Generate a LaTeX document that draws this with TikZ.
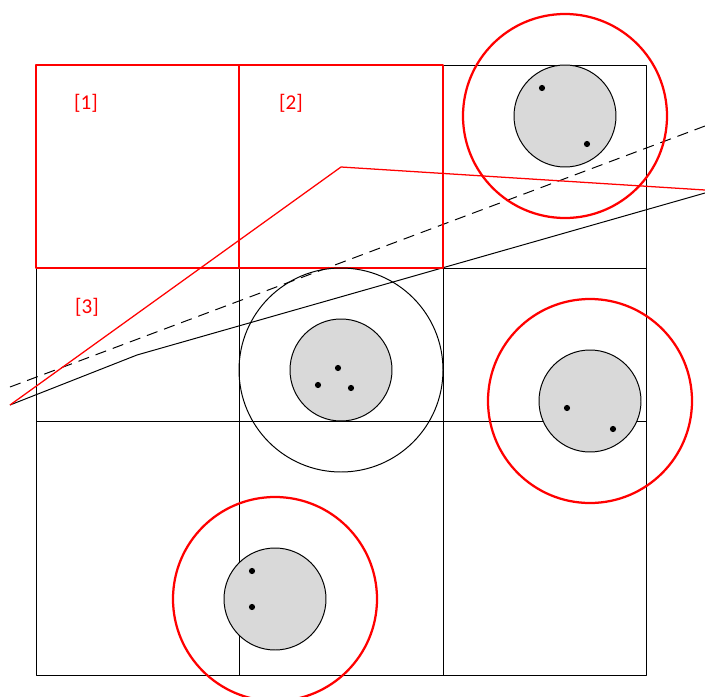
\documentclass[tikz,border=0pt]{standalone}
\usepackage{fontspec}
\setmainfont{Carlito}
\begin{document}
\begin{tikzpicture}[x=0.025cm,y=-0.025cm,line join=round,font=\fontsize{15}{17}\selectfont]
	\tikzset{thin line/.style={line width=0.7pt},
		red line/.style={draw=red,line width=0.9pt},
		big circle/.style={draw=red,line width=1.6pt},
		small disc/.style={draw=black,fill=gray!30,line width=0.7pt},
		pt/.style={fill=black}}
	\def\r{102} \def\s{51} % radii
	\useasboundingbox (0,0) rectangle (705,697);
	% grid
	\draw[thin line] (36,65) rectangle (646,675);
	\draw[thin line] (36,268)--(646,268) (36,421)--(646,421);
	\draw[thin line] (239,268)--(239,675) (443,268)--(443,675) (443,65)--(443,268);
	% lines
	\draw[thin line,dashed,dash pattern=on 8pt off 5pt] (10,387)--(705,126);
	\draw[thin line] (10,405)--(137,355)--(705,193);
	\draw[red line] (10,405)--(341,167)--(705,190);
	% red cells
	\draw[red line] (36,65) rectangle (239,268);
	\draw[red line] (239,65) rectangle (443,268);
	\node[text=red] (l1) at (86,103) {[1]};
	\node[text=red] (l2) at (291,103) {[2]};
	\node[text=red] (l3) at (87,307) {[3]};
	% circles
	\draw[thin line] (341,370) circle (\r);
	\foreach \cx/\cy in {565/116,590/401,275/599}
		\draw[big circle] (\cx,\cy) circle (\r);
	\foreach \cx/\cy in {565/116,341/370,590/401,275/599}
		\draw[small disc] (\cx,\cy) circle (\s);
	\foreach \px/\py in {542/88,587/144,338/368,318/385,351/388,567/408,613/429,252/571,252/607}
		\fill (\px,\py) circle (2.2pt);
\end{tikzpicture}
\end{document}
